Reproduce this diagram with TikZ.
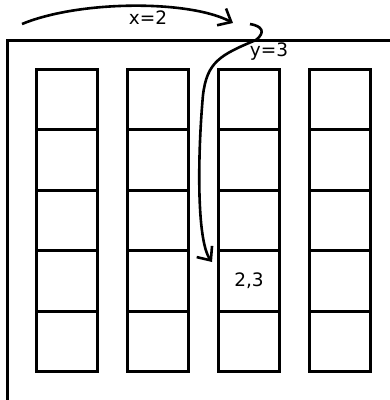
\documentclass[tikz,border=0pt]{standalone}
\usepackage{fontspec}
\setmainfont{DejaVu Sans}
\usetikzlibrary{arrows.meta}

\begin{document}
\begin{tikzpicture}
  [x=1pt,y=-1pt,line width=3pt,
   cell/.style={draw,rectangle,minimum size=60.5pt,inner sep=0pt},
   txt/.style={font=\fontsize{18.5}{18.5}\selectfont,inner sep=0pt},
   arr/.style={line width=2.6pt,-{Straight Barb[length=11pt,width=19pt,line width=2.6pt]}}]
  \useasboundingbox (0,0) rectangle (390,400);
  % frame
  \draw (7,401) -- (7,40) -- (391,40);
  % memory cells
  \foreach \col in {1,...,4}
    \foreach \row in {1,...,5}
      \node[cell] (c\col\row) at ({67+91*(\col-1)},{99.5+60.5*(\row-1)}) {};
  \node[txt] (lbl) at (c34) {2,3};
  % offsets
  \coordinate (xstart) at (22,24);
  \coordinate (xend) at (233,23);
  \coordinate (ystart) at (250,24);
  \coordinate (yend) at (212,262);
  \draw[arr] (xstart) .. controls (80,0) and (190,0) .. (xend);
  \draw[arr] (ystart) .. controls (262,26) and (266,32) .. (256,40)
    .. controls (220,55) and (207,62) .. (203,95)
    .. controls (198,150) and (196,240) .. (yend);
  \node[txt] (xlbl) at (148,18) {x=2};
  \node[txt] (ylbl) at (269,52) {y=3};
\end{tikzpicture}
\end{document}
